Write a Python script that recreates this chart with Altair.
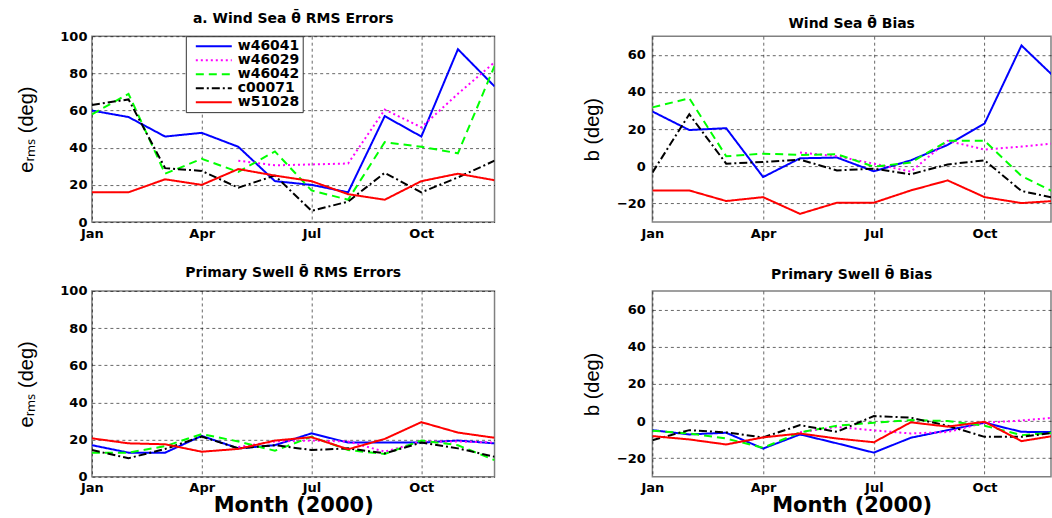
import altair as alt
import pandas as pd

months = list(range(1, 13))
stations = ["w46041", "w46029", "w46042", "c00071", "w51028"]
colors = ["#0000ff", "#ff00ff", "#00ff00", "#000000", "#ff0000"]
dashes = [[1, 0], [2, 3], [8, 5], [8, 3, 2, 3], [1, 0]]

tick_months = [1, 4, 7, 10]
tick_names = ["Jan", "Apr", "Jul", "Oct"]

N = None
wind_rms = {
    "w46041": [60, 56.5, 46, 48, 40.5, 22, 20, 16, 57, 46, 93, 73],
    "w46029": [N, N, N, N, 33, 30.5, 31, 31.5, 60.5, 51, 69, 86],
    "w46042": [58, 69, 26, 34, 27, 38, 17, 12, 43, 40.5, 37, 84],
    "c00071": [63, 66, 29, 27.5, 18.5, 25, 6, 11, 26.5, 16, 24, 33],
    "w51028": [16, 16, 23, 20, 28.5, 25, 22, 15, 12, 22, 26, 22.5],
}
wind_bias = {
    "w46041": [29.5, 19.5, 20.5, -5.8, 4.3, 4.7, -2.7, 3.2, 11.5, 23, 65, 46],
    "w46029": [N, N, N, N, 7.4, 5.4, 1.4, -2.9, 13.7, 9, 10.6, 12.5],
    "w46042": [31.7, 36.6, 5.4, 6.8, 6.1, 6.5, -0.2, 2, 13.7, 13.7, -5.2, -15],
    "c00071": [-3.4, 28, 1.4, 2.3, 3.6, -2.2, -1.3, -4.3, 1, 3.2, -13.3, -17.5],
    "w51028": [-13, -13, -18.7, -16.6, -25.6, -19.6, -19.6, -13, -7.6, -16.6, -19.8, -18.5],
}
swell_rms = {
    "w46041": [17, 13, 13, 22, 15.3, 17, 23.4, 18.4, 18.4, 18.4, 19.5, 18],
    "w46029": [N, N, N, N, 16, 19, 19.5, 19, 13.5, 19, 19, 18.4],
    "w46042": [13, 13, 16.5, 23, 19, 14, 21.6, 14.4, 12.3, 19.5, 17, 9],
    "c00071": [14.4, 10, 15, 21.6, 15.3, 17, 14.4, 15.3, 12.6, 18.4, 15.3, 10.8],
    "w51028": [20.7, 18, 17.5, 13.5, 15, 19.5, 21.3, 14.8, 20.4, 29.4, 23.8, 21],
}
swell_bias = {
    "w46041": [-4.9, -7.2, -6.3, -14.8, -7.2, -12, -17, -9, -4.9, -0.9, -5.8, -6],
    "w46029": [N, N, N, N, -6, -3.2, -5, -6.7, -5.9, -0.9, 0.3, 2],
    "w46042": [-5.2, -6.7, -9.4, -14.4, -6.1, -2.5, -0.9, 0.5, 0, -2.5, -7.6, -6],
    "c00071": [-10.3, -4.9, -6.1, -8.8, -2.2, -5.8, 2.7, 1.8, -2.5, -8.5, -8.5, -6],
    "w51028": [-8.1, -9.9, -12.6, -8.8, -6.7, -9.4, -11.4, -0.7, -3, -0.4, -10.8, -7.6],
}

label_expr = " : ".join(
    f"datum.value == {m} ? '{n}'" for m, n in zip(tick_months, tick_names)
) + " : ''"

def long_form(d):
    rows = []
    for s in stations:
        for m, v in zip(months, d[s]):
            if v is not None:
                rows.append({"month": m, "station": s, "value": v})
    return pd.DataFrame(rows)

def panel(d, title, ytitle, ydomain, yvalues, xmax, width, xtitle, legend,
          title_offset, ytitle_pad, ylabel_pad):
    df = long_form(d)
    if legend:
        leg = alt.Legend(
            title=None, orient="none", legendX=94, legendY=0,
            strokeColor="#333333", fillColor="white", padding=3,
            labelFont="DejaVu Sans", labelFontWeight="bold", labelFontSize=14,
            labelColor="black", symbolType="M0,0H6", symbolSize=144,
            symbolStrokeWidth=2, labelOffset=35, rowPadding=0,
        )
    else:
        leg = None
    xaxis = alt.Axis(values=tick_months, labelExpr=label_expr, grid=True,
                     labelPadding=5, labelAlign="center",
                     title=xtitle if xtitle else None,
                     titleFont="DejaVu Sans", titleFontSize=21,
                     titleFontWeight="bold", titlePadding=0)
    yaxis = alt.Axis(values=yvalues, grid=True, title=ytitle,
                     labelPadding=ylabel_pad, titlePadding=ytitle_pad,
                     titleFont="Liberation Sans", titleFontSize=20,
                     titleFontWeight="normal")
    ch = alt.Chart(df).mark_line(strokeWidth=2, clip=True).encode(
        x=alt.X("month:Q", scale=alt.Scale(domain=[1, xmax], nice=False, zero=False), axis=xaxis),
        y=alt.Y("value:Q", scale=alt.Scale(domain=ydomain, nice=False, zero=False), axis=yaxis),
        color=alt.Color("station:N", scale=alt.Scale(domain=stations, range=colors),
                        legend=leg, sort=stations),
        strokeDash=alt.StrokeDash("station:N", scale=alt.Scale(domain=stations, range=dashes),
                                  legend=leg, sort=stations),
    ).properties(
        width=width, height=186,
        title=alt.TitleParams(title, font="DejaVu Sans", fontSize=14,
                              fontWeight="bold", offset=title_offset,
                              anchor="middle", frame="group", color="black"),
    )
    return ch

theta = "\u03b8\u0304"
tl = panel(wind_rms, f"a. Wind Sea {theta} RMS Errors", "e\u1d63\u2098\u209b (deg)",
           [0, 100], [0, 20, 40, 60, 80, 100], 12, 403, None, True, 4.5, 23, 5)
tr = panel(wind_bias, f"Wind Sea {theta} Bias", "b (deg)",
           [-30, 70], [-20, 0, 20, 40, 60], 11.8, 399, None, False, 5, 14, 7)
bl = panel(swell_rms, f"Primary Swell {theta} RMS Errors", "e\u1d63\u2098\u209b (deg)",
           [0, 100], [0, 20, 40, 60, 80, 100], 12, 403, "Month (2000)", False, 4.5, 23, 5)
br = panel(swell_bias, f"Primary Swell {theta} Bias", "b (deg)",
           [-30, 70], [-20, 0, 20, 40, 60], 11.8, 399, "Month (2000)", False, 9, 14, 7)

chart = alt.concat(
    tl, tr, bl, br, columns=2, spacing={"row": 69, "column": 158}, bounds="flush"
).resolve_scale(
    color="independent", strokeDash="independent"
).resolve_legend(
    color="independent", strokeDash="independent"
).configure(
    padding={"left": 16, "top": 10, "right": 0, "bottom": 0},
    background="white",
).configure_view(
    stroke="#808080", strokeWidth=1.5
).configure_axis(
    labelFont="DejaVu Sans", labelFontWeight="bold", labelFontSize=13,
    labelColor="black", titleColor="black", domain=False, ticks=False,
    gridColor="#000000", gridDash=[3, 3], gridOpacity=0.6, gridWidth=1,
)

chart.save("out.html", embed_options={"renderer": "svg", "actions": False})
